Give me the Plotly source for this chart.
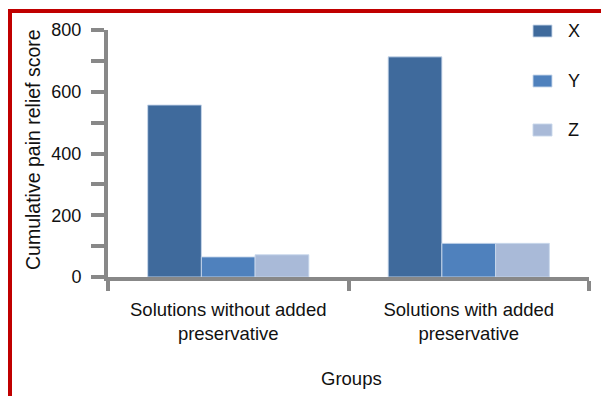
import plotly.graph_objects as go

# Data
groups = ["Solutions without added<br>preservative", "Solutions with added<br>preservative"]
series_names = ["X", "Y", "Z"]
x_values = [557, 713]
y_values = [65, 109]
z_values = [72, 109]
series_colors = ["#3F6A9C", "#4F81BD", "#A9BAD8"]
y_ticks = [0, 200, 400, 600, 800]

W_PX, H_PX = 601, 396
L, R, T, B = 108, 12, 30, 119
PW = W_PX - L - R
PH = H_PX - T - B


def px_x(px):
    return (px - L) / PW


def px_y(py):
    return (H_PX - B - py) / PH


fig = go.Figure()
for name, vals, col in zip(series_names, [x_values, y_values, z_values], series_colors):
    fig.add_trace(go.Bar(
        x=groups, y=vals, name=name,
        marker=dict(color=col, line=dict(color="rgba(200,215,235,0.9)", width=1)),
        showlegend=False,
    ))

axis_gray = "#888888"
font_family = "Arial, Liberation Sans, sans-serif"

fig.update_layout(
    width=W_PX, height=H_PX,
    margin=dict(l=L, r=R, t=T, b=B),
    paper_bgcolor="white", plot_bgcolor="white",
    barmode="group", bargap=0.33, bargroupgap=0,
    font=dict(family=font_family, size=17, color="#111111"),
    xaxis=dict(
        showline=True, linecolor=axis_gray, linewidth=4,
        ticks="outside", tickson="boundaries", ticklen=10, tickwidth=4, tickcolor=axis_gray,
        showgrid=False, zeroline=False,
        tickfont=dict(size=18.5),
        ticklabelstandoff=13,
    ),
    yaxis=dict(
        range=[0, 800], tickvals=y_ticks,
        showline=True, linecolor=axis_gray, linewidth=4,
        ticks="outside", ticklen=13, tickwidth=4, tickcolor=axis_gray,
        minor=dict(dtick=100, ticks="outside", ticklen=13, tickwidth=4, tickcolor=axis_gray),
        showgrid=False, zeroline=False,
        tickfont=dict(size=18),
        ticklabelstandoff=6,
    ),
)

annotations = [
    dict(text="Groups", x=px_x(351), y=px_y(378), xref="paper", yref="paper",
         showarrow=False, font=dict(size=18.5), xanchor="center", yanchor="middle"),
    dict(text="Cumulative pain relief score", x=px_x(33), y=px_y(150), xref="paper", yref="paper",
         showarrow=False, font=dict(size=19.5), textangle=-90, xanchor="center", yanchor="middle"),
]

shapes = []
# Legend entries drawn as swatches with labels
legend_y = [31, 81, 130]
for name, col, cy in zip(series_names, series_colors, legend_y):
    shapes.append(dict(type="rect", xref="paper", yref="paper",
                       x0=px_x(533), x1=px_x(552), y0=px_y(cy + 6), y1=px_y(cy - 6),
                       fillcolor=col, line=dict(color="rgba(200,215,235,0.9)", width=1)))
    annotations.append(dict(text=name, x=px_x(566), y=px_y(cy), xref="paper", yref="paper",
                            showarrow=False, font=dict(size=18), xanchor="left", yanchor="middle"))

# Red frame along the top and left edges
red = "#C00000"
shapes.append(dict(type="line", xref="paper", yref="paper",
                   x0=px_x(8), x1=px_x(601), y0=px_y(11), y1=px_y(11),
                   line=dict(color=red, width=4)))
shapes.append(dict(type="line", xref="paper", yref="paper",
                   x0=px_x(10), x1=px_x(10), y0=px_y(9), y1=px_y(396),
                   line=dict(color=red, width=4)))

fig.update_layout(annotations=annotations, shapes=shapes)

fig.write_html("out.html")
